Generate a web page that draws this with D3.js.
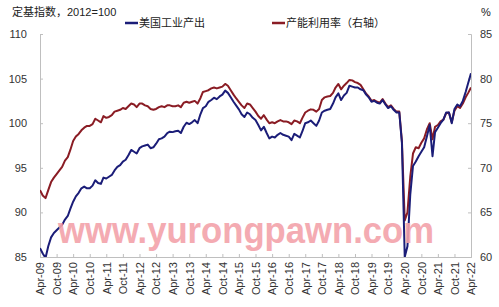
<!DOCTYPE html>
<html>
<head>
<meta charset="utf-8">
<script src="https://cdn.jsdelivr.net/npm/d3@7"></script>
<style>
  body { margin: 0; background: #fff; }
  svg { display: block; }
</style>
</head>
<body>
<div id="chart"></div>
<script>
// monthly values, Apr-09 .. Apr-22
const startMonth = "2009-04";
const industrialOutput = [
  86.0, 85.4, 84.9, 86.2, 87.2, 87.7, 88.0, 88.3, 88.6, 89.2, 89.6, 90.4,
  91.2, 91.8, 92.2, 92.7, 92.9, 92.7, 92.7, 93.0, 93.6, 93.3, 93.2, 93.9,
  93.8, 94.0, 94.2, 94.7, 95.1, 95.3, 95.7, 95.9, 96.4, 97.0, 96.8, 96.6,
  97.2, 97.4, 97.5, 97.6, 97.2, 97.3, 97.7, 98.2, 98.3, 98.5, 98.9, 99.05,
  99.0, 99.1, 99.15, 98.9, 99.6, 100.05, 99.9, 100.1, 100.35, 100.0, 101.0, 101.7,
  101.9, 102.4, 102.6, 102.85, 102.7, 103.0, 103.2, 103.65, 103.4, 102.9, 102.4, 102.0,
  101.55, 101.0, 100.7, 101.2, 101.0, 100.6, 100.35, 99.8, 99.2, 99.6, 98.9, 98.3,
  98.5, 98.4, 98.7, 98.9, 98.7, 98.6, 98.5, 98.1, 98.8, 98.6, 98.4, 99.1,
  100.0, 100.1, 100.3, 100.0, 99.7, 100.3, 101.2, 101.4, 101.5, 101.6, 102.2, 102.9,
  103.35, 102.6, 103.1, 103.4, 104.2, 104.1, 104.0, 104.0, 103.8, 103.7, 103.2, 102.9,
  102.4, 102.5, 102.3, 102.2, 102.6, 102.1, 101.7, 101.9, 101.5, 101.2, 101.2, 97.8,
  85.0, 86.2, 92.0, 95.2, 95.7, 96.3, 96.8, 97.3, 98.5, 99.8, 96.3, 99.0,
  99.5, 100.0, 100.4, 101.2, 101.2, 100.0, 101.6, 102.1, 101.9, 102.5, 103.5, 104.5,
  105.6
];
const capacityUtil = [
  67.5, 66.9, 66.6, 67.5, 68.4, 68.9, 69.3, 69.7, 70.1, 70.8, 71.2, 72.0,
  73.0, 73.5, 73.8, 74.2, 74.5, 74.7, 74.7, 74.9, 75.5, 75.3, 75.1, 75.8,
  75.6, 75.7, 75.9, 76.3, 76.4, 76.5, 76.7, 76.6, 76.9, 77.2, 77.1, 76.8,
  77.2, 77.2, 77.0, 76.9, 76.6, 76.5, 76.6, 76.8, 76.9, 76.8, 77.0, 77.0,
  76.9, 76.9, 77.0, 76.8, 77.3, 77.4, 77.3, 77.4, 77.5, 77.2, 77.8, 78.5,
  78.6, 78.7, 78.9, 79.0, 78.9, 79.0, 79.1, 79.4, 79.2, 78.7, 78.2, 77.8,
  77.4, 77.0, 76.7, 77.2, 77.1, 76.7, 76.3, 75.8, 75.5, 75.9, 75.4, 75.0,
  75.1, 75.0, 75.2, 75.35, 75.2, 75.2, 75.1, 74.9, 75.3, 75.2, 75.0, 75.6,
  76.2, 76.4, 76.55, 76.5, 76.3, 76.6, 77.6, 77.9, 78.0, 78.05, 78.4, 79.0,
  79.4, 78.8, 79.2, 79.5, 79.85, 79.8, 79.6, 79.5, 79.3, 78.8, 78.3, 78.0,
  77.5, 77.6, 77.4, 77.3, 77.7, 77.2, 76.8, 77.0, 76.6, 76.3, 76.3, 73.0,
  64.1, 65.0, 69.0, 71.6, 72.3, 72.2, 72.8, 73.3, 74.3, 75.0, 73.2, 74.6,
  74.8, 75.2, 75.4, 76.1, 76.2, 75.1, 76.4, 76.9, 76.7, 77.2, 77.9, 78.4,
  79.0
];
const xTickLabels = ["Apr-09","Oct-09","Apr-10","Oct-10","Apr-11","Oct-11","Apr-12","Oct-12",
  "Apr-13","Oct-13","Apr-14","Oct-14","Apr-15","Oct-15","Apr-16","Oct-16","Apr-17","Oct-17",
  "Apr-18","Oct-18","Apr-19","Oct-19","Apr-20","Oct-20","Apr-21","Oct-21","Apr-22"];
const leftTicks = [85, 90, 95, 100, 105, 110];
const rightTicks = [60, 65, 70, 75, 80, 85];

const W = 499, H = 307;
const plot = {left: 40, right: 471, top: 34, bottom: 257};
const font = "'Liberation Sans', Arial, 'Noto Sans CJK SC', sans-serif";
const axisColor = "#bfbfbf";
const blue = "#1b1d78", red = "#8a1c24";

const svg = d3.select("#chart").append("svg")
  .attr("width", W).attr("height", H)
  .style("font-family", font);

const parseMonth = d3.timeParse("%Y-%m");
const parseLabel = d3.timeParse("%b-%y");
const t0 = parseMonth(startMonth);
const dates = industrialOutput.map((d, i) => d3.timeMonth.offset(t0, i));

const x = d3.scaleTime()
  .domain([dates[0], dates[dates.length - 1]])
  .range([plot.left, plot.right]);
const yL = d3.scaleLinear().domain([85, 110]).range([plot.bottom, plot.top]);
const yR = d3.scaleLinear().domain([60, 85]).range([plot.bottom, plot.top]);

// axes
const gx = svg.append("g")
  .attr("transform", `translate(0,${plot.bottom})`)
  .call(d3.axisBottom(x)
    .tickValues(xTickLabels.map(parseLabel))
    .tickFormat(d3.timeFormat("%b-%y"))
    .tickSize(-3)
    .tickPadding(0));
gx.selectAll("text")
  .attr("transform", "rotate(-90)")
  .attr("text-anchor", "end")
  .attr("x", -5)
  .attr("y", 0)
  .attr("dy", "0.35em")
  .style("font-size", "11px")
  .style("fill", "#333");

const gl = svg.append("g")
  .attr("transform", `translate(${plot.left},0)`)
  .call(d3.axisLeft(yL).tickValues(leftTicks).tickSize(-3).tickPadding(13));
gl.selectAll("text").style("font-size", "11px").style("fill", "#333");

const gr = svg.append("g")
  .attr("transform", `translate(${plot.right},0)`)
  .call(d3.axisRight(yR).tickValues(rightTicks).tickSize(-3).tickPadding(9));
gr.selectAll("text").style("font-size", "11px").style("fill", "#333");

svg.selectAll(".domain").attr("stroke", axisColor);
svg.selectAll(".tick line").attr("stroke", axisColor);

// lines
svg.append("defs").append("clipPath").attr("id", "clip")
  .append("rect")
  .attr("x", plot.left).attr("y", plot.top - 5)
  .attr("width", plot.right - plot.left).attr("height", plot.bottom - plot.top + 5);

svg.append("path")
  .datum(capacityUtil)
  .attr("clip-path", "url(#clip)")
  .attr("fill", "none")
  .attr("stroke", red)
  .attr("stroke-width", 2)
  .attr("stroke-linejoin", "round")
  .attr("d", d3.line().x((d, i) => x(dates[i])).y(d => yR(d)));

svg.append("path")
  .datum(industrialOutput)
  .attr("clip-path", "url(#clip)")
  .attr("fill", "none")
  .attr("stroke", blue)
  .attr("stroke-width", 2)
  .attr("stroke-linejoin", "round")
  .attr("d", d3.line().x((d, i) => x(dates[i])).y(d => yL(d)));

// titles and legend
svg.append("text").attr("x", 12).attr("y", 16)
  .style("font-size", "11px").style("fill", "#222")
  .text("定基指数，2012=100");
svg.append("text").attr("x", 481).attr("y", 16)
  .style("font-size", "11px").style("fill", "#222")
  .text("%");

const legend = [
  {name: "美国工业产出", color: blue, x: 125},
  {name: "产能利用率（右轴）", color: red, x: 272}
];
legend.forEach(l => {
  svg.append("line")
    .attr("x1", l.x).attr("x2", l.x + 13)
    .attr("y1", 23).attr("y2", 23)
    .attr("stroke", l.color).attr("stroke-width", 2.5);
  svg.append("text").attr("x", l.x + 14).attr("y", 27)
    .style("font-size", "11px").style("fill", "#222")
    .text(l.name);
});

// watermark
svg.append("text")
  .attr("x", 58).attr("y", 243)
  .attr("textLength", 376)
  .attr("lengthAdjust", "spacingAndGlyphs")
  .style("font-family", "'Liberation Sans', Arial, sans-serif")
  .style("font-weight", "bold")
  .style("font-size", "36px")
  .style("fill", "#f3a2aa")
  .style("opacity", 0.9)
  .text("www.yurongpawn.com");
</script>
</body>
</html>
